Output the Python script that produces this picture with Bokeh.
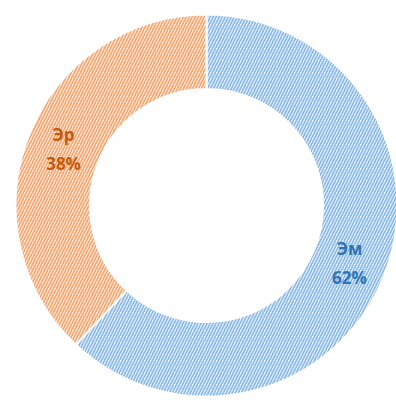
import math
from bokeh.plotting import figure
from bokeh.models import Range1d, ColumnDataSource
from bokeh.core.properties import value
from bokeh.embed import file_html
from bokeh.resources import INLINE

# Share of each group
categories = ["Эм", "Эр"]
shares = [62, 38]
percent_labels = ["62%", "38%"]

fill_colors = ["#e4f0fb", "#fee8d8"]
hatch_colors = ["#88b8e8", "#f5a66f"]
label_colors = ["#2e75b6", "#c55a11"]

W, H = 396, 400
cx, cy = 206, H - 205
r_outer, r_inner = 191, 116.5

total = sum(shares)
starts, ends, lx, ly = [], [], [], []
cum = 0.0
for s in shares:
    a0 = math.pi / 2 - 2 * math.pi * cum / total
    cum += s
    a1 = math.pi / 2 - 2 * math.pi * cum / total
    starts.append(a1)
    ends.append(a0)
    mid = (a0 + a1) / 2
    rm = (r_outer + r_inner) / 2
    lx.append(cx + rm * math.cos(mid))
    ly.append(cy + rm * math.sin(mid))

src = ColumnDataSource(dict(
    start=starts, end=ends, fill=fill_colors, hatch=hatch_colors,
    cat=categories, pct=percent_labels, col=label_colors,
    x=lx, y=ly,
    y_top=[v + 14 for v in ly], y_bot=[v - 15 for v in ly],
))

p = figure(width=W, height=H, output_backend="svg", toolbar_location=None,
           x_range=Range1d(0, W), y_range=Range1d(0, H), min_border=0)
p.axis.visible = False
p.grid.visible = False
p.outline_line_color = None
p.background_fill_color = "white"
p.border_fill_color = "white"

p.annular_wedge(x=cx, y=cy, inner_radius=r_inner, outer_radius=r_outer,
                start_angle="start", end_angle="end", direction="anticlock",
                fill_color="fill", line_color="white", line_width=2,
                hatch_pattern="/", hatch_color="hatch", hatch_scale=6,
                hatch_weight=1.6, source=src)

for col in ("cat", "pct"):
    p.text(x="x", y="y_top" if col == "cat" else "y_bot", text=col,
           text_color="col", text_align="center", text_baseline="middle",
           text_font=value("Open Sans"), text_font_style="bold",
           text_font_size="17px", source=src)

open("out.html", "w").write(file_html(p, INLINE))
